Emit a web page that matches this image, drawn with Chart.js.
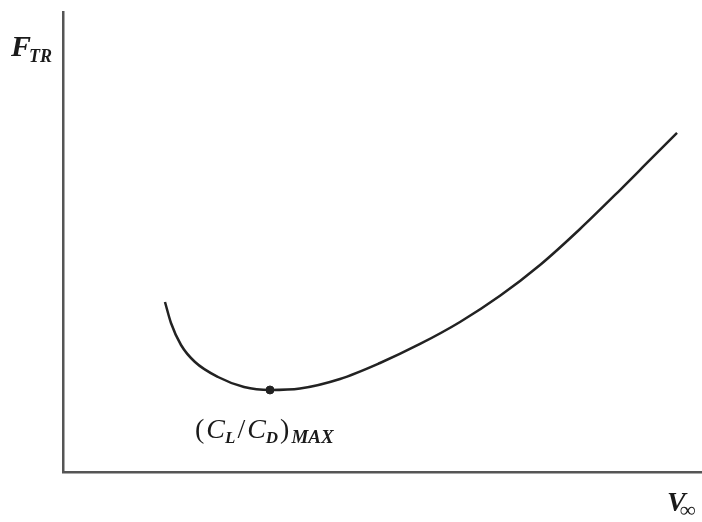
<!DOCTYPE html>
<html>
<head>
<meta charset="utf-8">
<script src="https://cdn.jsdelivr.net/npm/chart.js@4.4.1/dist/chart.umd.min.js"></script>
<style>
  body { margin: 0; background: #fff; }
  #wrap { width: 702px; height: 522px; }
</style>
</head>
<body>
<div id="wrap"><canvas id="dragChart" width="702" height="522"></canvas></div>
<script>
// thrust required vs. free-stream velocity (arbitrary units, axes 0..100)
const speedV  = [15.96, 16.90, 18.47, 20.66, 24.26, 28.33, 32.39, 37.09, 43.35, 49.61, 55.87, 62.13, 68.39, 74.65, 80.91, 87.17, 91.86, 96.09];
const thrustF = [36.96, 32.39, 27.61, 23.91, 20.65, 18.48, 17.83, 18.15, 20.22, 23.70, 27.83, 32.61, 38.30, 45.00, 52.83, 61.30, 67.83, 73.70];
const minV = [32.39];
const minF = [17.83];

// draws one label made of runs: [text, size, baseline shift, style, gap after]
function drawRuns(ctx, x, y, runs, family) {
    let cx = x;
    runs.forEach(function(r) {
        ctx.font = r[3] + ' ' + r[1] + 'px ' + family;
        ctx.fillText(r[0], cx, y + r[2]);
        cx += ctx.measureText(r[0]).width + (r[4] || 0);
    });
}

const labelPlugin = {
    id: 'labels',
    afterDraw: function(chart) {
        const ctx = chart.ctx;
        ctx.save();
        ctx.fillStyle = '#1a1a1a';
        ctx.textBaseline = 'alphabetic';
        ctx.textAlign = 'left';
        drawRuns(ctx, 11, 56, [
            ['F', 30, 0, 'italic bold', -2],
            ['TR', 18, 6, 'italic bold']
        ], '"Liberation Serif", serif');
        drawRuns(ctx, 667, 511, [
            ['V', 28, 0, 'italic bold', -6],
            ['\u221E', 22, 6, 'bold']
        ], '"Liberation Serif", serif');
        drawRuns(ctx, 195, 438, [
            ['(', 28, 0, '', 2],
            ['C', 28, 0, 'italic', 0],
            ['L', 17, 5, 'italic bold', 2],
            ['/', 28, 0, '', 2],
            ['C', 28, 0, 'italic', 0],
            ['D', 17, 5, 'italic bold', 2],
            [')', 28, 0, '', 2],
            ['MAX', 19, 5, 'italic bold']
        ], '"Liberation Serif", serif');
        ctx.restore();
    }
};

const ctx = document.getElementById('dragChart');
const myChart = new Chart(ctx, {
    type: 'line',
    data: {
        datasets: [{
            label: 'F_TR',
            data: speedV.map(function(v, i) { return {x: v, y: thrustF[i]}; }),
            borderColor: '#222',
            borderWidth: 2.5,
            pointRadius: 0,
            cubicInterpolationMode: 'monotone',
            fill: false
        }, {
            label: 'min',
            data: minV.map(function(v, i) { return {x: v, y: minF[i]}; }),
            showLine: false,
            pointRadius: 4,
            pointBackgroundColor: '#222',
            pointBorderColor: '#222'
        }]
    },
    plugins: [labelPlugin],
    options: {
        responsive: false,
        animation: false,
        layout: {
            autoPadding: false,
            padding: {left: 63, right: 0, top: 12, bottom: 50}
        },
        scales: {
            x: {
                type: 'linear',
                min: 0,
                max: 100,
                grid: {display: false, drawTicks: false},
                ticks: {display: false},
                border: {color: '#555', width: 2.5}
            },
            y: {
                min: 0,
                max: 100,
                grid: {display: false, drawTicks: false},
                ticks: {display: false},
                border: {color: '#555', width: 2.5}
            }
        },
        plugins: {
            legend: {display: false},
            tooltip: {enabled: false}
        }
    }
});
</script>
</body>
</html>
